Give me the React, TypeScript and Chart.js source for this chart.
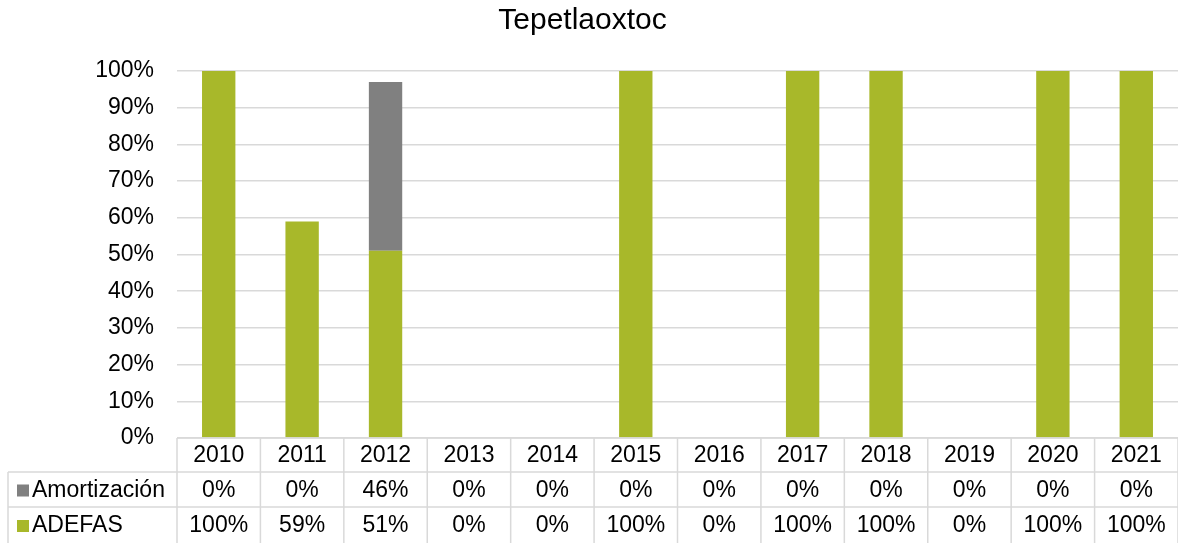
import React, { useEffect, useRef } from "react";
import { Chart, registerables } from "chart.js";

Chart.register(...registerables);

const TITLE = "Tepetlaoxtoc";
const YEARS = ["2010", "2011", "2012", "2013", "2014", "2015", "2016", "2017", "2018", "2019", "2020", "2021"];
const AMORTIZACION = [0, 0, 46, 0, 0, 0, 0, 0, 0, 0, 0, 0];
const ADEFAS = [100, 59, 51, 0, 0, 100, 0, 100, 100, 0, 100, 100];
const Y_TICKS = [0, 10, 20, 30, 40, 50, 60, 70, 80, 90, 100];

const GREEN = "#A8B82A";
const GREY = "#808080";
const GRID = "#d9d9d9";
const FONT = '"Liberation Sans", Arial, sans-serif';

const tablePlugin = {
  id: "dataTable",
  afterDraw(chart: any) {
    const ctx = chart.ctx;
    const xs = chart.scales.x;
    const area = chart.chartArea;
    const n = YEARS.length;
    const left = area.left;
    const right = area.right;
    const catW = (right - left) / n;
    const top = area.bottom;
    const r1 = top + 34;
    const r2 = top + 69;
    const bottom = chart.height;
    const tableLeft = 8;

    ctx.save();
    ctx.strokeStyle = GRID;
    ctx.lineWidth = 1.5;
    ctx.beginPath();
    ctx.moveTo(left, top);
    ctx.lineTo(right, top);
    ctx.moveTo(tableLeft, r1);
    ctx.lineTo(right, r1);
    ctx.moveTo(tableLeft, r2);
    ctx.lineTo(right, r2);
    for (let i = 0; i <= n; i++) {
      const x = left + i * catW;
      ctx.moveTo(x, top);
      ctx.lineTo(x, bottom);
    }
    ctx.moveTo(tableLeft, r1);
    ctx.lineTo(tableLeft, bottom);
    ctx.stroke();

    ctx.fillStyle = "#000";
    ctx.font = `23px ${FONT}`;
    ctx.textAlign = "center";
    ctx.textBaseline = "middle";
    const yYear = (top + r1) / 2 + 1;
    const yA = (r1 + r2) / 2 + 1;
    const yB = (r2 + bottom) / 2 + 1;
    for (let i = 0; i < n; i++) {
      const cx = xs.getPixelForValue(i);
      ctx.fillText(YEARS[i], cx, yYear);
      ctx.fillText(Math.round(AMORTIZACION[i]) + "%", cx, yA);
      ctx.fillText(Math.round(ADEFAS[i]) + "%", cx, yB);
    }

    ctx.textAlign = "left";
    ctx.fillStyle = GREY;
    ctx.fillRect(17, yA - 6, 12, 12);
    ctx.fillStyle = GREEN;
    ctx.fillRect(17, yB - 6, 12, 12);
    ctx.fillStyle = "#000";
    ctx.fillText("Amortización", 32, yA);
    ctx.fillText("ADEFAS", 32, yB);

    ctx.font = `30px ${FONT}`;
    ctx.textAlign = "center";
    ctx.fillText(TITLE, 582.5, 21);
    ctx.restore();
  },
};

export default function App() {
  const ref = useRef<HTMLCanvasElement | null>(null);
  useEffect(() => {
    if (!ref.current) return;
    const chart = new Chart(ref.current, {
      type: "bar",
      data: {
        labels: YEARS,
        datasets: [
          { label: "ADEFAS", data: ADEFAS, backgroundColor: GREEN, barPercentage: 0.4, categoryPercentage: 1 },
          { label: "Amortización", data: AMORTIZACION, backgroundColor: GREY, barPercentage: 0.4, categoryPercentage: 1 },
        ],
      },
      options: {
        animation: false,
        responsive: false,
        devicePixelRatio: 1,
        layout: { padding: { top: 71, bottom: 105, left: 0, right: 0 } },
        plugins: { legend: { display: false }, title: { display: false }, tooltip: { enabled: false } },
        scales: {
          x: {
            stacked: true,
            ticks: { display: false },
            grid: { display: false },
            border: { display: false },
            afterFit: (s: any) => { s.height = 0; },
          },
          y: {
            stacked: true,
            min: 0,
            max: 100,
            afterBuildTicks: (s: any) => { s.ticks = Y_TICKS.map((v) => ({ value: v })); },
            ticks: {
              padding: 23,
              color: "#000",
              font: { family: FONT, size: 23 },
              callback: (v: any) => v + "%",
            },
            grid: { color: GRID, lineWidth: 1.5, drawTicks: false },
            border: { display: false },
            afterFit: (s: any) => { s.width = 177; },
          },
        },
      },
      plugins: [tablePlugin],
    });
    return () => chart.destroy();
  }, []);
  return (
    <div style={{ position: "fixed", left: 0, top: 0, width: 1178, height: 543, background: "#fff" }}>
      <canvas ref={ref} width={1178} height={543} />
    </div>
  );
}
